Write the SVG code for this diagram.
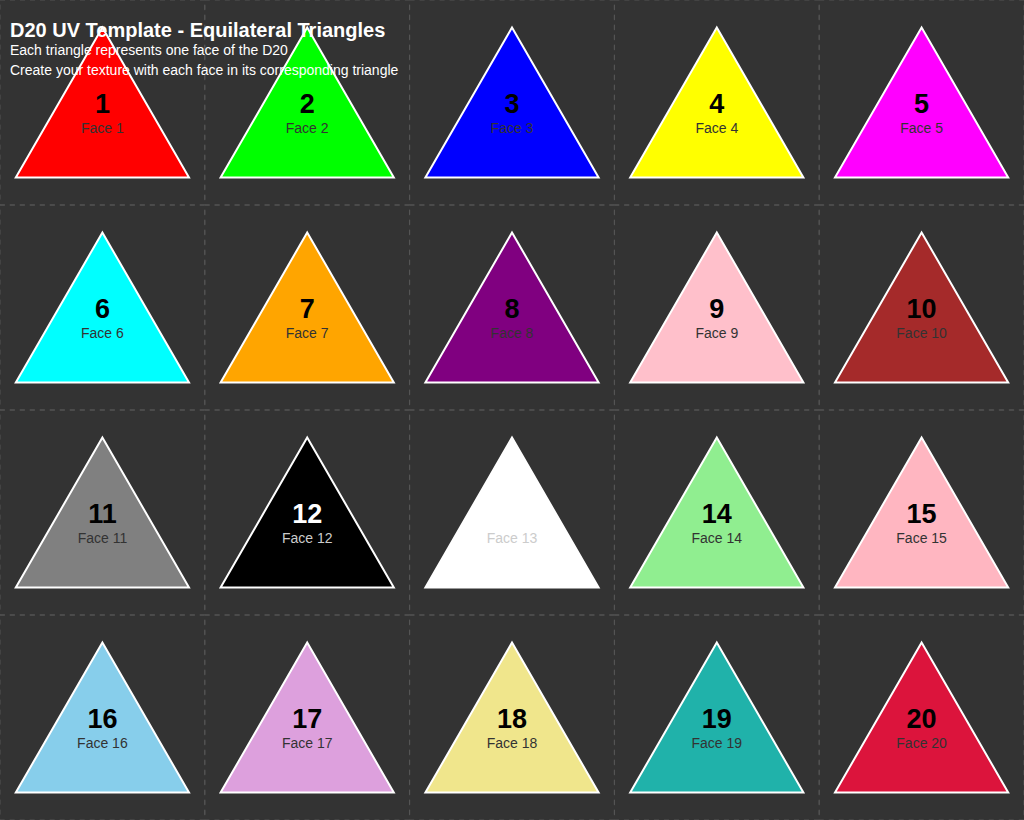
<svg xmlns="http://www.w3.org/2000/svg" width="1024" height="820" viewBox="0 0 1024 820">
<style>
.cell{fill:none;stroke:#555;stroke-width:1;stroke-dasharray:5,5}
.tri{stroke:#fff;stroke-width:2}
.num{font-family:"Liberation Sans",Arial,sans-serif;font-size:27px;font-weight:bold;text-anchor:middle;fill:#000}
.lbl{font-family:"Liberation Sans",Arial,sans-serif;font-size:14px;text-anchor:middle;fill:#333}
.title{font-family:"Liberation Sans",Arial,sans-serif;font-size:20px;font-weight:bold;fill:#fff}
.sub{font-family:"Liberation Sans",Arial,sans-serif;font-size:14px;fill:#fff}
</style>
<defs>
<polygon id="t" points="102.4,27.5 15.8,177.5 189,177.5"/>
</defs>
<rect width="1024" height="820" fill="#333"/>
<g id="connectors"></g>
<g id="face1" transform="translate(0,0)"><rect class="cell" width="204.8" height="205"/><use href="#t" class="tri" fill="#FF0000"/><text class="num" x="102.4" y="113">1</text><text class="lbl" x="102.4" y="133">Face 1</text></g>
<g id="face2" transform="translate(204.8,0)"><rect class="cell" width="204.8" height="205"/><use href="#t" class="tri" fill="#00FF00"/><text class="num" x="102.4" y="113">2</text><text class="lbl" x="102.4" y="133">Face 2</text></g>
<g id="face3" transform="translate(409.6,0)"><rect class="cell" width="204.8" height="205"/><use href="#t" class="tri" fill="#0000FF"/><text class="num" x="102.4" y="113">3</text><text class="lbl" x="102.4" y="133">Face 3</text></g>
<g id="face4" transform="translate(614.4,0)"><rect class="cell" width="204.8" height="205"/><use href="#t" class="tri" fill="#FFFF00"/><text class="num" x="102.4" y="113">4</text><text class="lbl" x="102.4" y="133">Face 4</text></g>
<g id="face5" transform="translate(819.2,0)"><rect class="cell" width="204.8" height="205"/><use href="#t" class="tri" fill="#FF00FF"/><text class="num" x="102.4" y="113">5</text><text class="lbl" x="102.4" y="133">Face 5</text></g>
<g id="face6" transform="translate(0,205)"><rect class="cell" width="204.8" height="205"/><use href="#t" class="tri" fill="#00FFFF"/><text class="num" x="102.4" y="113">6</text><text class="lbl" x="102.4" y="133">Face 6</text></g>
<g id="face7" transform="translate(204.8,205)"><rect class="cell" width="204.8" height="205"/><use href="#t" class="tri" fill="#FFA500"/><text class="num" x="102.4" y="113">7</text><text class="lbl" x="102.4" y="133">Face 7</text></g>
<g id="face8" transform="translate(409.6,205)"><rect class="cell" width="204.8" height="205"/><use href="#t" class="tri" fill="#800080"/><text class="num" x="102.4" y="113">8</text><text class="lbl" x="102.4" y="133">Face 8</text></g>
<g id="face9" transform="translate(614.4,205)"><rect class="cell" width="204.8" height="205"/><use href="#t" class="tri" fill="#FFC0CB"/><text class="num" x="102.4" y="113">9</text><text class="lbl" x="102.4" y="133">Face 9</text></g>
<g id="face10" transform="translate(819.2,205)"><rect class="cell" width="204.8" height="205"/><use href="#t" class="tri" fill="#A52A2A"/><text class="num" x="102.4" y="113">10</text><text class="lbl" x="102.4" y="133">Face 10</text></g>
<g id="face11" transform="translate(0,410)"><rect class="cell" width="204.8" height="205"/><use href="#t" class="tri" fill="#808080"/><text class="num" x="102.4" y="113">11</text><text class="lbl" x="102.4" y="133">Face 11</text></g>
<g id="face12" transform="translate(204.8,410)"><rect class="cell" width="204.8" height="205"/><use href="#t" class="tri" fill="#000000"/><text class="num" x="102.4" y="113" style="fill:#fff">12</text><text class="lbl" x="102.4" y="133" style="fill:#ccc">Face 12</text></g>
<g id="face13" transform="translate(409.6,410)"><rect class="cell" width="204.8" height="205"/><use href="#t" class="tri" fill="#FFFFFF"/><text class="num" x="102.4" y="113" style="fill:#fff">13</text><text class="lbl" x="102.4" y="133" style="fill:#ccc">Face 13</text></g>
<g id="face14" transform="translate(614.4,410)"><rect class="cell" width="204.8" height="205"/><use href="#t" class="tri" fill="#90EE90"/><text class="num" x="102.4" y="113">14</text><text class="lbl" x="102.4" y="133">Face 14</text></g>
<g id="face15" transform="translate(819.2,410)"><rect class="cell" width="204.8" height="205"/><use href="#t" class="tri" fill="#FFB6C1"/><text class="num" x="102.4" y="113">15</text><text class="lbl" x="102.4" y="133">Face 15</text></g>
<g id="face16" transform="translate(0,615)"><rect class="cell" width="204.8" height="205"/><use href="#t" class="tri" fill="#87CEEB"/><text class="num" x="102.4" y="113">16</text><text class="lbl" x="102.4" y="133">Face 16</text></g>
<g id="face17" transform="translate(204.8,615)"><rect class="cell" width="204.8" height="205"/><use href="#t" class="tri" fill="#DDA0DD"/><text class="num" x="102.4" y="113">17</text><text class="lbl" x="102.4" y="133">Face 17</text></g>
<g id="face18" transform="translate(409.6,615)"><rect class="cell" width="204.8" height="205"/><use href="#t" class="tri" fill="#F0E68C"/><text class="num" x="102.4" y="113">18</text><text class="lbl" x="102.4" y="133">Face 18</text></g>
<g id="face19" transform="translate(614.4,615)"><rect class="cell" width="204.8" height="205"/><use href="#t" class="tri" fill="#20B2AA"/><text class="num" x="102.4" y="113">19</text><text class="lbl" x="102.4" y="133">Face 19</text></g>
<g id="face20" transform="translate(819.2,615)"><rect class="cell" width="204.8" height="205"/><use href="#t" class="tri" fill="#DC143C"/><text class="num" x="102.4" y="113">20</text><text class="lbl" x="102.4" y="133">Face 20</text></g>
<g id="title">
<text class="title" x="10" y="37">D20 UV Template - Equilateral Triangles</text>
<text class="sub" x="10" y="55">Each triangle represents one face of the D20</text>
<text class="sub" x="10" y="75">Create your texture with each face in its corresponding triangle</text>
</g>
</svg>
